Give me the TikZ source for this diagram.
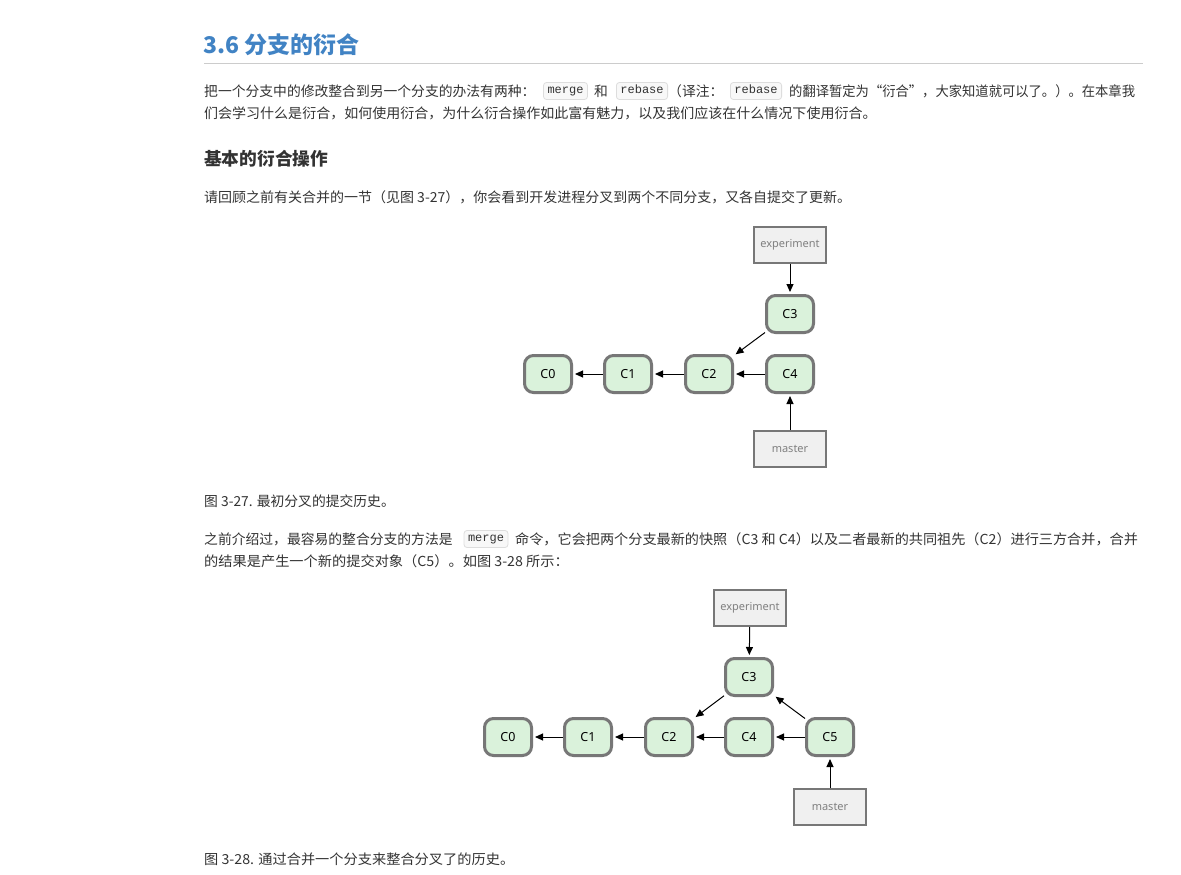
\documentclass[tikz,border=0pt]{standalone}
\usepackage{graphicx}
\usepackage{fontspec}
\setmainfont{Noto Sans CJK SC}
\newfontfamily\codefont{Liberation Mono}
\newfontfamily\figfont{Noto Sans}
\usetikzlibrary{arrows.meta}
\newcommand\hsq[2]{\scalebox{#1}[1]{#2}}
\definecolor{headblue}{HTML}{4183C4}
\definecolor{txt}{HTML}{333333}
\definecolor{rulegray}{HTML}{CCCCCC}
\definecolor{commitfill}{HTML}{DAF2DB}
\definecolor{commitdraw}{HTML}{777777}
\definecolor{branchfill}{HTML}{F0F0F0}
\definecolor{branchtext}{HTML}{808080}
\definecolor{codefill}{HTML}{F8F8F8}
\definecolor{codedraw}{HTML}{DDDDDD}
\tikzset{
  body/.style={anchor=base west, inner sep=0pt, text=txt, font=\fontsize{13.8}{16}\selectfont},
  commit/.style={draw=commitdraw, line width=3pt, fill=commitfill, rounded corners=9pt,
    minimum width=47pt, minimum height=37pt, inner sep=0pt, font=\figfont\fontsize{12.5}{14}\selectfont},
  branch/.style={draw=commitdraw, line width=2pt, fill=branchfill, minimum width=72pt,
    minimum height=36pt, inner sep=0pt, text=branchtext, font=\figfont\fontsize{11}{13}\selectfont},
  code/.style={draw=codedraw, fill=codefill, rounded corners=3pt, line width=0.8pt,
    inner xsep=4pt, inner ysep=0pt, text height=7.5pt, text depth=2.5pt, minimum height=17pt,
    text=txt, font=\codefont\fontsize{12}{14}\selectfont},
  arr/.style={-{Triangle[length=8pt,width=7pt]}, line width=1pt, shorten >=2pt}
}
\begin{document}
\begin{tikzpicture}[x=1pt,y=-1pt]
\path[fill=white, use as bounding box] (0,0) rectangle (1181,875);
% heading
\node[anchor=base west, inner sep=0pt, text=headblue, font=\bfseries\fontsize{23}{26}\selectfont] (h1) at (203,54) {3.6 分支的衍合};
\draw[rulegray, line width=1pt] (204,64) -- (1143,64);
% paragraph 1
\node[body] (p1a) at (204,96) {把一个分支中的修改整合到另一个分支的办法有两种：};
\node[code] (c1) at (565.5,91) {merge};
\node[body] (p1b) at (594,96) {和};
\node[code] (c2) at (642,91) {rebase};
\node[body] (p1c) at (668,96) {（译注：};
\node[code] (c3) at (756,91) {rebase};
\node[body] (p1d) at (789,96) {\hsq{0.964}{的翻译暂定为“衍合”，大家知道就可以了。）。在本章我}};
\node[body] (p1e) at (204,118) {\hsq{1.015}{们会学习什么是衍合，如何使用衍合，为什么衍合操作如此富有魅力，以及我们应该在什么情况下使用衍合。}};
% subheading
\node[anchor=base west, inner sep=0pt, text=txt, font=\bfseries\fontsize{17.7}{20}\selectfont] (h2) at (204,165) {基本的衍合操作};
\node[body] (p2) at (204,202) {\hsq{1.014}{请回顾之前有关合并的一节（见图 3-27），你会看到开发进程分叉到两个不同分支，又各自提交了更新。}};
% figure 1
\node[branch] (e1) at (790,245) {experiment};
\node[commit] (a3) at (790,314) {C3};
\node[commit] (a0) at (548,374) {C0};
\node[commit] (a1) at (628,374) {C1};
\node[commit] (a2) at (709,374) {C2};
\node[commit] (a4) at (790,374) {C4};
\node[branch] (m1) at (790,449) {master};
\draw[arr] (e1) -- (a3);
\draw[arr] (a3) -- (a2);
\draw[arr] (a4) -- (a2);
\draw[arr] (a2) -- (a1);
\draw[arr] (a1) -- (a0);
\draw[arr] (m1) -- (a4);
\node[body] (cap1) at (204,506) {图 3-27. 最初分叉的提交历史。};
% paragraph 3
\node[body] (p3a) at (204,544) {之前介绍过，最容易的整合分支的方法是};
\node[code] (c4) at (486,539) {merge};
\node[body] (p3b) at (515,544) {\hsq{1.025}{命令，它会把两个分支最新的快照（C3 和 C4）以及二者最新的共同祖先（C2）进行三方合并，合并}};
\node[body] (p3c) at (204,566) {\hsq{1.03}{的结果是产生一个新的提交对象（C5）。如图 3-28 所示：}};
% figure 2
\node[branch] (e2) at (750,608) {experiment};
\node[commit] (b3) at (749,677) {C3};
\node[commit] (b0) at (508,737) {C0};
\node[commit] (b1) at (588,737) {C1};
\node[commit] (b2) at (669,737) {C2};
\node[commit] (b4) at (749,737) {C4};
\node[commit] (b5) at (830,737) {C5};
\node[branch] (m2) at (830,807) {master};
\draw[arr] (e2) -- (b3);
\draw[arr] (b3) -- (b2);
\draw[arr] (b5) -- (b3);
\draw[arr] (b5) -- (b4);
\draw[arr] (b4) -- (b2);
\draw[arr] (b2) -- (b1);
\draw[arr] (b1) -- (b0);
\draw[arr] (m2) -- (b5);
\node[body] (cap2) at (204,864) {\hsq{1.03}{图 3-28. 通过合并一个分支来整合分叉了的历史。}};
\end{tikzpicture}
\end{document}
